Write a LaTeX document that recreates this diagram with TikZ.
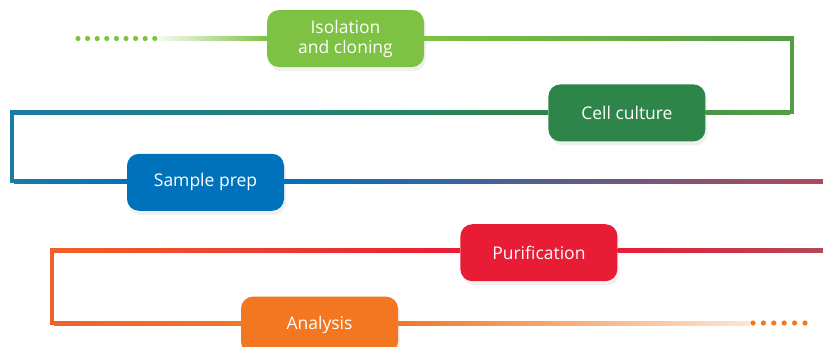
\documentclass[tikz,border=0pt]{standalone}
\usepackage{fontspec}
\setmainfont{Open Sans}
\usetikzlibrary{positioning}
\usetikzlibrary{calc}
\usetikzlibrary{shadows}

\definecolor{isogreen}{HTML}{7DC242}
\definecolor{midgreen}{HTML}{559C47}
\definecolor{cellgreen}{HTML}{2E8549}
\definecolor{teal}{HTML}{1A7BA5}
\definecolor{prepblue}{HTML}{0072BC}
\definecolor{purple}{HTML}{6E5A8A}
\definecolor{rose}{HTML}{B04A5A}
\definecolor{purred}{HTML}{E81C34}
\definecolor{redorange}{HTML}{F0622A}
\definecolor{anaorange}{HTML}{F37721}
\definecolor{paleorange}{HTML}{FCE6D4}

\begin{document}
\begin{tikzpicture}[x=1pt,y=1pt,
	stage node/.style={rectangle,rounded corners=12pt,minimum width=157pt,minimum height=57pt,inner sep=0pt,
		align=center,text=white,font=\fontsize{17.5}{20}\selectfont,
		drop shadow={shadow xshift=2pt,shadow yshift=-4pt,opacity=0.12}}]

	\useasboundingbox (0,0) rectangle (823,-346);

	\node[stage node,fill=isogreen] (iso) at (345.5,-38.5) {Isolation\\and cloning};
	\node[stage node,fill=cellgreen] (cell) [below right=17pt and 124pt of iso] {Cell culture};
	\node[stage node,fill=prepblue] (prep) [below left=12pt and 264pt of cell] {Sample prep};
	\node[stage node,fill=purred] (pur) [below right=13pt and 176pt of prep] {Purification};
	\node[stage node,fill=anaorange] (ana) [below left=15pt and 62pt of pur] {Analysis};

	\coordinate (start) at (158,-38.5);
	\coordinate (c1) at (792,-38.5);
	\coordinate (c2) at (792,-112);
	\coordinate (c3) at (12,-112);
	\coordinate (c4) at (12,-181);
	\coordinate (c5) at (823,-181);
	\coordinate (c6) at (823,-250.5);
	\coordinate (c7) at (52,-250.5);
	\coordinate (c8) at (52,-323);
	\coordinate (stop) at (750,-323);

	\foreach \i in {0,...,8}
		\fill[isogreen] (78+\i*9.6,-38.5) circle (2.6);
	\foreach \i in {0,...,5}
		\fill[anaorange] (753+\i*10.4,-323) circle (2.6);

	\shade[left color=isogreen!8,right color=isogreen] ($(start)+(0,2)$) rectangle ($(iso.west |- start)+(0,-2)$);
	\shade[left color=isogreen,right color=midgreen] ($(iso.east |- c1)+(0,2)$) rectangle ($(c1)+(2,-2)$);
	\fill[midgreen] ($(c1)+(-2,2)$) rectangle ($(c2)+(2,-2)$);
	\shade[left color=midgreen!70!cellgreen,right color=midgreen] ($(cell.east |- c2)+(0,2)$) rectangle ($(c2)+(-2,-2)$);
	\shade[left color=teal,right color=cellgreen] ($(c3)+(-2,2)$) rectangle ($(cell.west |- c3)+(0,-2)$);
	\fill[teal] ($(c3)+(-2,2)$) rectangle ($(c4)+(2,-2)$);
	\shade[left color=teal,right color=prepblue] ($(c4)+(2,2)$) rectangle ($(prep.west |- c4)+(0,-2)$);
	\shade[left color=prepblue,middle color=purple,right color=rose] ($(prep.east |- c5)+(0,2)$) rectangle ($(c5)+(0,-2)$);
	\shade[left color=purred,right color=rose] ($(pur.east |- c6)+(0,2)$) rectangle ($(c6)+(0,-2)$);
	\shade[left color=redorange,right color=purred] ($(c7)+(-2,2)$) rectangle ($(pur.west |- c7)+(0,-2)$);
	\fill[redorange] ($(c7)+(-2,2)$) rectangle ($(c8)+(2,-2)$);
	\shade[left color=redorange,right color=anaorange] ($(c8)+(2,2)$) rectangle ($(ana.west |- c8)+(0,-2)$);
	\shade[left color=anaorange,right color=paleorange] ($(ana.east |- stop)+(0,2)$) rectangle ($(stop)+(0,-2)$);

\end{tikzpicture}
\end{document}
